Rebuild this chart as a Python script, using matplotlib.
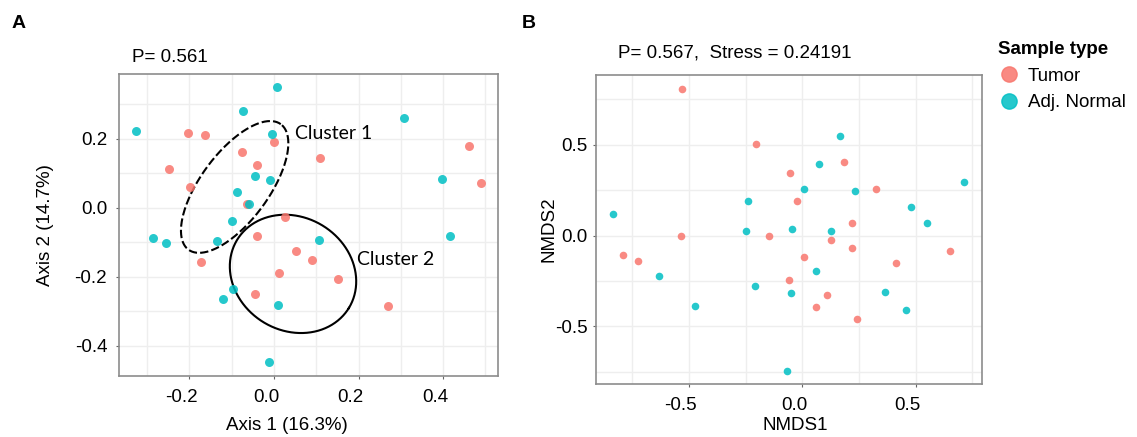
import numpy as np
import matplotlib.pyplot as plt
from matplotlib.ticker import MultipleLocator
from matplotlib.transforms import ScaledTranslation
from matplotlib.lines import Line2D

plt.rcParams['font.family'] = ['Liberation Sans', 'DejaVu Sans']
plt.rcParams['axes.unicode_minus'] = False

TUMOR = '#F8766D'
NORMAL = '#00BFC4'

# Panel A - PCoA coordinates
pcoa_tumor_x = [-0.204, -0.163, 0.001, -0.076, -0.249, -0.039, -0.199, -0.063, 0.027, -0.041,
                -0.173, 0.052, 0.012, -0.044, 0.091, 0.151, 0.270, 0.109, 0.461, 0.489]
pcoa_tumor_y = [0.217, 0.212, 0.190, 0.163, 0.112, 0.124, 0.062, 0.012, -0.027, -0.082,
                -0.156, -0.126, -0.188, -0.248, -0.152, -0.207, -0.285, 0.144, 0.179, 0.072]
pcoa_normal_x = [0.008, -0.073, -0.326, -0.005, -0.044, -0.010, -0.087, -0.060, -0.099, -0.287,
                 -0.255, -0.134, -0.097, -0.120, 0.009, -0.011, 0.107, 0.415, 0.308, 0.398]
pcoa_normal_y = [0.350, 0.281, 0.222, 0.214, 0.094, 0.082, 0.046, 0.011, -0.037, -0.087,
                 -0.101, -0.096, -0.236, -0.265, -0.281, -0.447, -0.092, -0.080, 0.260, 0.083]

# Panel B - NMDS coordinates
nmds_tumor_x = [-0.530, -0.203, -0.056, -0.533, -0.147, -0.791, -0.725, -0.058, 0.184, 0.326,
                -0.023, 0.217, 0.126, 0.219, 0.649, 0.007, 0.413, 0.110, 0.062, 0.240]
nmds_tumor_y = [0.805, 0.501, 0.345, 0.000, -0.002, -0.109, -0.140, -0.246, 0.405, 0.255,
                0.188, 0.068, -0.026, -0.067, -0.087, -0.120, -0.151, -0.329, -0.395, -0.459]
nmds_normal_x = [-0.239, -0.834, -0.247, -0.046, -0.633, -0.210, -0.048, -0.471, -0.066, 0.166,
                 0.072, 0.006, 0.233, 0.714, 0.478, 0.548, 0.128, 0.059, 0.363, 0.456]
nmds_normal_y = [0.188, 0.116, 0.025, 0.035, -0.221, -0.276, -0.314, -0.387, -0.745, 0.545,
                 0.393, 0.254, 0.246, 0.292, 0.155, 0.069, 0.026, -0.195, -0.310, -0.408]

# cluster outlines drawn by hand in the figure: centre, two semi-axis vectors
cluster1 = ((-0.093, 0.061), (0.109, 0.182), (-0.065, 0.058))
cluster2 = ((0.045, -0.191), (0.132, -0.099), (0.070, 0.140))

W, H = 1137, 437
fig = plt.figure(figsize=(W / 100, H / 100), dpi=100)


def px_box(left, top, right, bottom):
    return [left / W, 1 - bottom / H, (right - left) / W, (bottom - top) / H]


def style_axes(ax, step, ypad):
    ax.xaxis.set_major_locator(MultipleLocator(step))
    ax.xaxis.set_minor_locator(MultipleLocator(step / 2))
    ax.yaxis.set_major_locator(MultipleLocator(step))
    ax.yaxis.set_minor_locator(MultipleLocator(step / 2))
    ax.grid(which='both', color='#EEEEEE', lw=1.0)
    ax.set_axisbelow(True)
    for s in ax.spines.values():
        s.set_color('#8C8C8C')
        s.set_linewidth(1.2)
    ax.tick_params(which='major', length=2.5, width=0.8, color='#666666',
                   labelsize=13.5)
    ax.tick_params(axis='x', pad=7)
    ax.tick_params(axis='y', pad=ypad)
    ax.tick_params(which='minor', length=0)


def draw_ellipse(ax, shape, ls):
    (cx, cy), a, b = shape
    t = np.linspace(0, 2 * np.pi, 300)
    x = cx + a[0] * np.cos(t) + b[0] * np.sin(t)
    y = cy + a[1] * np.cos(t) + b[1] * np.sin(t)
    ax.plot(x, y, color='black', ls=ls, lw=1.5)


# ---- Panel A
axA = fig.add_axes(px_box(119, 74, 498, 376))
axA.scatter(pcoa_tumor_x, pcoa_tumor_y, s=42, color=TUMOR, alpha=0.85, lw=0, zorder=3)
axA.scatter(pcoa_normal_x, pcoa_normal_y, s=42, color=NORMAL, alpha=0.85, lw=0, zorder=3)
draw_ellipse(axA, cluster1, (0, (4, 1.5)))
draw_ellipse(axA, cluster2, '-')
axA.text(0.05, 0.217, 'Cluster 1', family='Lato', fontsize=14, va='center')
axA.text(0.196, -0.148, 'Cluster 2', family='Lato', fontsize=14, va='center')
axA.set_xlim(-0.3664, 0.5296)
axA.set_ylim(-0.487, 0.3884)
style_axes(axA, 0.2, 6)
axA.set_xlabel('Axis 1 (16.3%)', fontsize=13.5)
axA.set_ylabel('Axis 2 (14.7%)', fontsize=13.5)
axA.xaxis.set_label_coords(0.443, -0.135)
axA.yaxis.set_label_coords(-0.172, 0.5)

# ---- Panel B
axB = fig.add_axes(px_box(596, 75, 982, 384))
axB.scatter(nmds_tumor_x, nmds_tumor_y, s=30, color=TUMOR, alpha=0.85, lw=0, zorder=3)
axB.scatter(nmds_normal_x, nmds_normal_y, s=30, color=NORMAL, alpha=0.85, lw=0, zorder=3)
axB.set_xlim(-0.909, 0.792)
axB.set_ylim(-0.816, 0.882)
style_axes(axB, 0.5, 3.5)
axB.set_xlabel('NMDS1', fontsize=13.5)
axB.set_ylabel('NMDS2', fontsize=13.5)
axB.xaxis.set_label_coords(0.516, -0.107)
axB.yaxis.set_label_coords(-0.1, 0.5)

# titles and panel letters
fig.text(132 / W, 1 - 58 / H, 'P= 0.561', fontsize=13.5, va='center')
fig.text(618 / W, 1 - 53 / H, 'P= 0.567,  Stress = 0.24191', fontsize=13.5, va='center')
fig.text(12 / W, 1 - 23 / H, 'A', fontsize=14, weight='bold', va='center')
fig.text(522 / W, 1 - 23 / H, 'B', fontsize=14, weight='bold', va='center')

handles = [Line2D([], [], marker='o', ls='', color=TUMOR, alpha=0.85, ms=11, label='Tumor'),
           Line2D([], [], marker='o', ls='', color=NORMAL, alpha=0.85, ms=11, label='Adj. Normal')]
fig.legend(handles=handles, title='Sample type', loc='upper left',
           bbox_to_anchor=(985 / W, 1 - 28 / H), frameon=False, fontsize=13.5,
           title_fontproperties={'weight': 'bold', 'size': 13.5}, alignment='left',
           handletextpad=0.4, labelspacing=0.5, handlelength=1.2, borderpad=0.2)

# x tick labels sit a little left of their ticks in the original
fig.canvas.draw()
shift = ScaledTranslation(-8 / 100, 0, fig.dpi_scale_trans)
for ax in (axA, axB):
    for lab in ax.get_xticklabels():
        lab.set_transform(lab.get_transform() + shift)

fig.savefig('out.png', dpi=100)
